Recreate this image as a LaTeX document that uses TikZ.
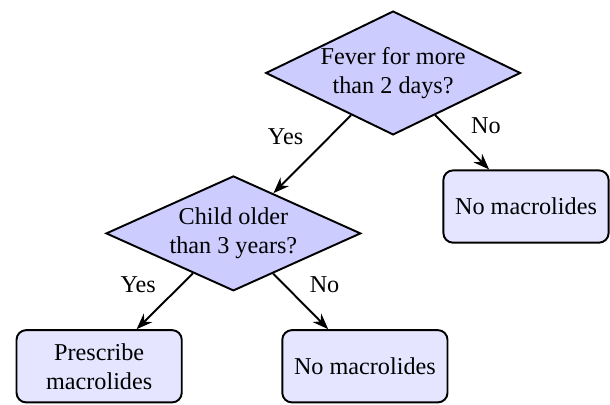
\documentclass[tikz,border=0pt]{standalone}
\usepackage{fontspec}
\setmainfont{Liberation Serif}
\usetikzlibrary{shapes.geometric, arrows.meta}

\begin{document}
\begin{tikzpicture}[thick,
    question/.style={diamond, aspect=2, draw, fill=blue!20, inner sep=0pt, minimum width=3.7cm, align=center},
    answer/.style={rectangle, rounded corners, draw, fill=blue!10, minimum width=2.4cm, minimum height=1.05cm, align=center},
    >={Stealth}]
  \useasboundingbox (0,0) rectangle (8.86,-5.87);

  % Nodes
  \node[question] (fever) at (5.71,-1.06) {Fever for more\\than 2 days?};
  \node[question] (age) at (3.39,-3.39) {Child older\\than 3 years?};
  \node[answer] (none1) at (7.64,-3.00) {No macrolides};
  \node[answer] (give) at (1.44,-5.32) {Prescribe\\macrolides};
  \node[answer] (none2) at (5.30,-5.32) {No macrolides};

  % Edges
  \draw[->] (fever) -- node[above left]{Yes} (age);
  \draw[->] (fever) -- node[above right]{No} (none1);
  \draw[->] (age) -- node[above left]{Yes} (give);
  \draw[->] (age) -- node[above right]{No} (none2);
\end{tikzpicture}
\end{document}
